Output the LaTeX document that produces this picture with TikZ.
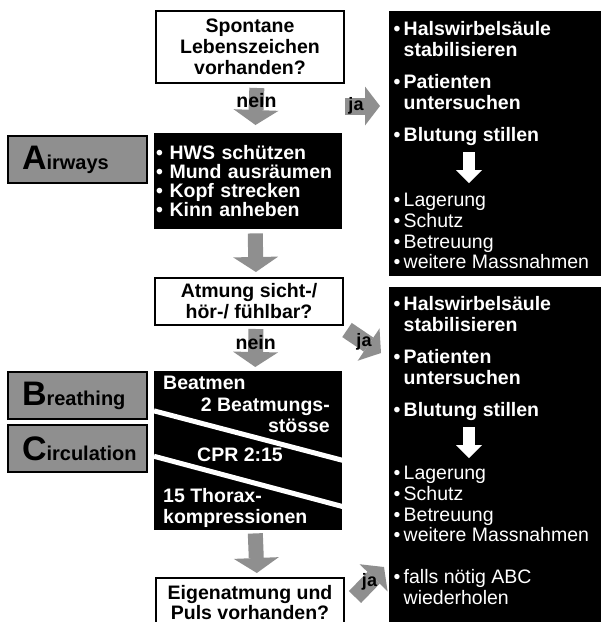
\documentclass[tikz,border=0pt]{standalone}
\usepackage{fontspec}
\setmainfont{Liberation Sans}
\usetikzlibrary{arrows.meta,calc}
\definecolor{rastergrau}{gray}{0.56}
\newcommand{\pkt}{\makebox[10pt][l]{•}}

\begin{document}
\begin{tikzpicture}[x=1pt, y=-1pt,
    every node/.style={font=\bfseries\fontsize{19.5}{21}\selectfont, inner sep=0pt},
    frage/.style={draw=black, line width=2pt, fill=white, anchor=north west, minimum width=188pt, align=center},
    schwarz/.style={fill=black, anchor=north west, minimum width=188pt},
    weiss/.style={text=white, anchor=north west, align=left},
    normaltext/.style={font=\fontsize{19.5}{20.7}\selectfont},
    etikett/.style={draw=black, line width=2pt, fill=rastergrau, anchor=north west, minimum width=139pt, minimum height=47pt, text width=111pt, inner xsep=14pt, align=left, font=\bfseries\fontsize{20}{20}\selectfont},
    balken/.style={draw=rastergrau, line width=15pt, shorten <=4pt, shorten >=5pt, -{Triangle[length=15pt, width=45pt, line width=0pt]}},
    japfeil/.style={draw=rastergrau, line width=17pt, -{Triangle[length=15pt, width=39pt, line width=0pt]}},
    jatext/.style={font=\bfseries\fontsize{18}{18}\selectfont},
    weisspfeil/.style={draw=white, line width=12pt, -{Triangle[length=13pt, width=26pt, line width=0pt]}}]
    \useasboundingbox (0,0) rectangle (601,622);

    % Fragen
    \node[frage, minimum height=72pt] (frage1) at (155,10) {Spontane\\Lebenszeichen\\vorhanden?};
    \node[frage, minimum height=47pt] (frage2) at (154,277) {Atmung sicht-/\\hör-/ fühlbar?};
    \node[frage, minimum height=49pt, font=\bfseries\fontsize{19.5}{20}\selectfont] (frage3) at (155,577) {Eigenatmung und\\Puls vorhanden?};

    % A, B, C
    \node[etikett] (airways) at (7,135) {{\fontsize{34}{34}\selectfont A}irways};
    \node[etikett] (breathing) at (7,371) {{\fontsize{34}{34}\selectfont B}reathing};
    \node[etikett] (circulation) at (7,424) {{\fontsize{34}{34}\selectfont C}irculation};

    % Atemwege freimachen
    \node[schwarz, weiss, minimum height=96pt, text width=184pt, inner xsep=2pt, font=\bfseries\fontsize{19.5}{19}\selectfont] (hws) at (154,133) {• HWS schützen\\• Mund ausräumen\\• Kopf strecken\\• Kinn anheben};

    % Beatmung und Herzdruckmassage
    \node[schwarz, minimum height=159pt] (hlw) at (154,371) {};
    \draw[white, line width=5pt] ($(hlw.north west)!0.25!(hlw.south west)$) -- ($(hlw.north east)!0.56!(hlw.south east)$);
    \draw[white, line width=5pt] ($(hlw.north west)!0.535!(hlw.south west)$) -- ($(hlw.north east)!0.85!(hlw.south east)$);
    \node[weiss] (beatmen) at (163,376) {Beatmen};
    \node[weiss, anchor=north east, align=right] (stoesse) at (330,398) {2 Beatmungs-\\stösse};
    \node[weiss] (cpr) at (197,448) {CPR 2:15};
    \node[weiss] (thorax) at (163,488) {15 Thorax-\\kompressionen};

    % Massnahmen oben
    \node[schwarz, minimum width=212pt, minimum height=265pt] (rechts1) at (389,11) {};
    \node[weiss] (fett1) at (393.5,21) {\pkt Halswirbelsäule\\\hspace*{10pt}stabilisieren\\[11pt]\pkt Patienten\\\hspace*{10pt}untersuchen\\[11pt]\pkt Blutung stillen};
    \node[weiss, normaltext] (normal1) at (393.5,193) {\pkt Lagerung\\\pkt Schutz\\\pkt Betreuung\\\pkt weitere Massnahmen};
    \coordinate (w1a) at (469,152);
    \coordinate (w1b) at (469,183);
    \draw[weisspfeil] (w1a) -- (w1b);

    % Massnahmen unten
    \node[schwarz, minimum width=212pt, minimum height=340pt] (rechts2) at (389,287) {};
    \node[weiss] (fett2) at (393.5,296) {\pkt Halswirbelsäule\\\hspace*{10pt}stabilisieren\\[11pt]\pkt Patienten\\\hspace*{10pt}untersuchen\\[11pt]\pkt Blutung stillen};
    \node[weiss, normaltext] (normal2) at (393.5,466) {\pkt Lagerung\\\pkt Schutz\\\pkt Betreuung\\\pkt weitere Massnahmen\\[21pt]\pkt falls nötig ABC\\\hspace*{10pt}wiederholen};
    \coordinate (w2a) at (469,427);
    \coordinate (w2b) at (469,458);
    \draw[weisspfeil] (w2a) -- (w2b);

    % nein
    \draw[balken, shorten >=8pt] ([xshift=7pt]frage1.south) -- node[pos=0.33] {nein} ([xshift=7pt]hws.north);
    \draw[balken] ([xshift=7pt]hws.south) -- ([xshift=7pt]frage2.north);
    \draw[balken, shorten <=3pt, shorten >=4pt] ([xshift=7pt]frage2.south) -- node[pos=0.37] {nein} ([xshift=7pt]hlw.north);
    \draw[balken, shorten <=3pt, shorten >=4pt] ([xshift=7pt]hlw.south) -- ([xshift=7pt]frage3.north);

    % ja
    \coordinate (ja1start) at ([yshift=-22pt]frage1.south east);
    \draw[japfeil, shorten >=9pt] (ja1start) -- node[pos=0.25, jatext] {ja} (ja1start -| rechts1.west);
    \coordinate (ja2ziel) at (381,353);
    \draw[japfeil] ([shift={(3pt,-4pt)}]frage2.south east) -- node[jatext] {ja} (ja2ziel);
    \coordinate (ja3ziel) at (384,567);
    \draw[japfeil] ([shift={(10pt,-20pt)}]frage3.north east) -- node[jatext] {ja} (ja3ziel);
\end{tikzpicture}
\end{document}
